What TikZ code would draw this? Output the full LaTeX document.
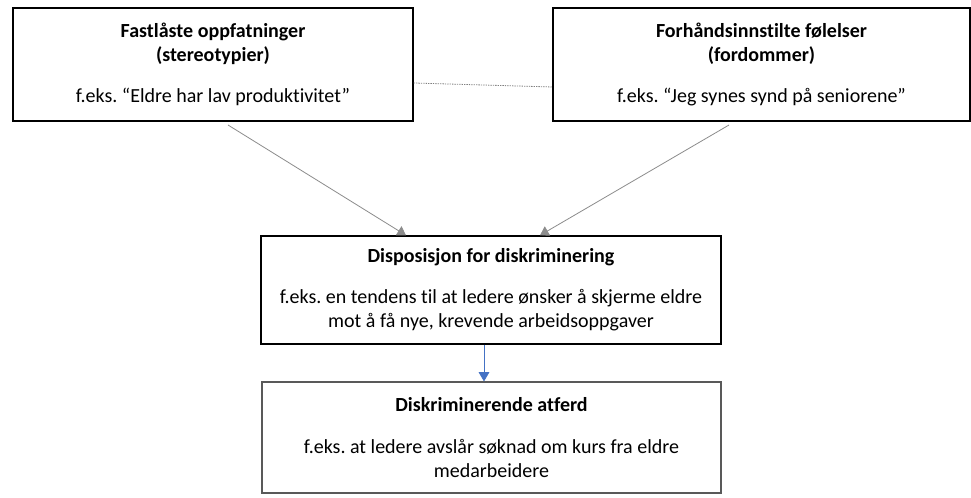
\documentclass[tikz,border=0pt]{standalone}
\usepackage{fontspec}
\setmainfont{Carlito}[Ligatures=NoCommon]
\usetikzlibrary{arrows.meta}
\definecolor{arrowblue}{HTML}{4472C4}
\frenchspacing
\begin{document}
\begin{tikzpicture}[
    x=0.75pt, y=-0.75pt,
    every node/.style={align=center, font=\fontsize{15pt}{18pt}\selectfont},
    box/.style={draw, line width=1pt, inner sep=0pt},
    dotted line/.style={draw, gray, line width=0.6pt, dash pattern=on 1pt off 0.8pt},
    grey arrow/.style={draw, black!45, line width=0.6pt, -{Triangle[width=8pt,length=6.5pt]}},
    blue arrow/.style={draw, arrowblue, line width=0.6pt, -{Triangle[width=8pt,length=7pt]}},
    ]
\fill[white] (0,0) rectangle (971,498);
\useasboundingbox (0,0) rectangle (971,498);
\node[box, minimum width=300pt, minimum height=84.75pt] (stereo) at (213,64.5)
    {\textbf{Fastlåste oppfatninger}\\\textbf{(stereotypier)}\\[13pt]f.eks. “Eldre har lav produktivitet”};
\node[box, minimum width=312.75pt, minimum height=84.75pt] (fordom) at (761.5,64.5)
    {\textbf{Forhåndsinnstilte følelser}\\\textbf{(fordommer)}\\[13pt]f.eks. “Jeg synes synd på seniorene”};
\node[box, minimum width=345pt, minimum height=81pt] (disp) at (491,290)
    {\textbf{Disposisjon for diskriminering}\\[13pt]f.eks. en tendens til at ledere ønsker å skjerme eldre\\mot å få nye, krevende arbeidsoppgaver};
\node[box, draw=black!65, line width=0.8pt, minimum width=344.25pt, minimum height=83.25pt] (atferd) at (491.5,437.5)
    {\textbf{Diskriminerende atferd}\\[13pt]f.eks. at ledere avslår søknad om kurs fra eldre\\medarbeidere};
\draw[dotted line] (stereo.east |- 0,83) -- (fordom.west |- 0,87);
\coordinate (fromStereo) at (228,125);
\coordinate (toStereo) at (406,236);
\coordinate (fromFordom) at (729,125);
\coordinate (toFordom) at (540,236);
\coordinate (mid) at (484,0);
\draw[grey arrow] (fromStereo) -- (disp.north -| toStereo);
\draw[grey arrow] (fromFordom) -- (disp.north -| toFordom);
\draw[blue arrow] (disp.south -| mid) -- (atferd.north -| mid);
\end{tikzpicture}
\end{document}
